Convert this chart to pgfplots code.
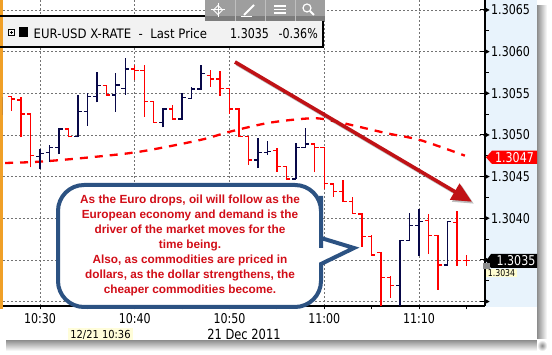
\documentclass[border=0pt]{standalone}
\usepackage{fontspec}
\usepackage{pgfplots}
\usepackage{pgfplotstable}
\pgfplotsset{compat=1.18}
\usetikzlibrary{arrows.meta}
\newfontfamily\tah{DejaVu Sans}[FakeStretch=0.82]
\newfontfamily\hdr{DejaVu Sans}[FakeStretch=0.9]
\newfontfamily\arb{Liberation Sans}
\definecolor{barnavy}{RGB}{8,8,72}
\definecolor{barred}{RGB}{255,0,0}
\definecolor{panelblue}{RGB}{232,243,252}
\definecolor{arrowred}{RGB}{192,18,22}
\definecolor{callnavy}{RGB}{44,82,130}
\definecolor{callred}{RGB}{210,14,24}
\definecolor{orng}{RGB}{240,160,40}
\definecolor{hdrgray}{RGB}{242,242,242}
\definecolor{tbgray}{RGB}{158,158,158}
\definecolor{tbdark}{RGB}{125,125,125}

\pgfdeclareplotmark{otick}{\pgfpathmoveto{\pgfqpoint{-3.8pt}{0pt}}\pgfpathlineto{\pgfqpoint{0.6pt}{0pt}}\pgfusepathqstroke}
\pgfdeclareplotmark{ctick}{\pgfpathmoveto{\pgfqpoint{-0.6pt}{0pt}}\pgfpathlineto{\pgfqpoint{3.8pt}{0pt}}\pgfusepathqstroke}

\newcommand\tri{\tikz[baseline=-4.9pt]{\draw[line width=1pt,black](0pt,0pt)--(5pt,0pt);\fill[black](4pt,2.9pt)--(9.5pt,0pt)--(4pt,-2.9pt)--cycle;}}

% t = minutes after 10:30
\pgfplotstableread{
t o h l c
-4 1.30532 1.30546 1.30524 1.30546
0 1.30474 1.30483 1.30459 1.30478
1 1.30479 1.30488 1.30468 1.30485
2 1.30485 1.30507 1.30477 1.30507
4 1.30498 1.30548 1.30497 1.30528
5 1.30528 1.30550 1.30511 1.30546
6 1.30546 1.30575 1.30539 1.30559
8 1.30548 1.30574 1.30528 1.30560
9 1.30556 1.30592 1.30548 1.30579
13 1.30515 1.30532 1.30509 1.30531
15 1.30519 1.30550 1.30518 1.30545
16 1.30544 1.30558 1.30543 1.30555
17 1.30555 1.30584 1.30555 1.30574
23 1.30470 1.30496 1.30460 1.30479
24 1.30479 1.30493 1.30476 1.30480
27 1.30447 1.30490 1.30447 1.30485
28 1.30485 1.30508 1.30485 1.30489
38 1.30319 1.30373 1.30290 1.30373
39 1.30373 1.30406 1.30373 1.30391
40 1.30391 1.30411 1.30355 1.30396
43 1.30344 1.30397 1.30343 1.30396
}\upbars

\pgfplotstableread{
t o h l c
-3 1.30546 1.30546 1.30529 1.30543
-2 1.30542 1.30546 1.30497 1.30525
-1 1.30525 1.30526 1.30461 1.30475
3 1.30507 1.30507 1.30497 1.30498
7 1.30559 1.30559 1.30548 1.30548
10 1.30579 1.30584 1.30566 1.30577
11 1.30577 1.30584 1.30522 1.30540
12 1.30540 1.30541 1.30515 1.30515
14 1.30531 1.30536 1.30518 1.30519
18 1.30571 1.30578 1.30558 1.30567
19 1.30567 1.30577 1.30547 1.30556
20 1.30556 1.30556 1.30525 1.30531
21 1.30531 1.30531 1.30497 1.30498
22 1.30498 1.30499 1.30464 1.30470
25 1.30481 1.30484 1.30456 1.30462
26 1.30462 1.30462 1.30446 1.30447
29 1.30489 1.30489 1.30455 1.30485
30 1.30485 1.30486 1.30435 1.30442
31 1.30441 1.30442 1.30426 1.30432
32 1.30432 1.30446 1.30420 1.30420
33 1.30420 1.30426 1.30406 1.30406
34 1.30405 1.30406 1.30366 1.30378
35 1.30378 1.30380 1.30356 1.30356
36 1.30359 1.30360 1.30290 1.30329
37 1.30329 1.30331 1.30304 1.30319
41 1.30397 1.30405 1.30357 1.30379
42 1.30379 1.30379 1.30314 1.30344
44 1.30395 1.30409 1.30343 1.30349
45 1.30349 1.30356 1.30343 1.30349
}\downbars

\begin{document}
\begin{tikzpicture}
\useasboundingbox (0pt,0pt) rectangle (552pt,355pt);
\begin{scope}[x=1pt,y=-1pt,shift={(0pt,355pt)}]
  % shadows
  \shade[left color=black!45, right color=white] (537,6) rectangle (547,346);
  \shade[top color=black!45, bottom color=white] (6,340) rectangle (537,351);
  \shade[inner color=black!45, outer color=white] (537,340) rectangle (547,351);
  \fill[white] (0,0) rectangle (537,340);
  \fill[panelblue] (486,0) rectangle (537,307);
  \fill[orng] (0,0) rectangle (2.5,309);
\end{scope}

\begin{axis}[
  at={(3pt,49pt)}, anchor=south west, scale only axis,
  width=482pt, height=306pt,
  xmin=-3.905, xmax=46.97, ymin=1.302946, ymax=1.30662,
  axis x line*=bottom, axis y line*=right,
  axis line style={black, line width=1.1pt, -},
  xtick={0,10,20,30,40}, xticklabels={10:30,10:40,10:50,11:00,11:10},
  minor xtick={5,15,25,35,45},
  ytick={1.3030,1.3035,1.3040,1.3045,1.3050,1.3055,1.3060,1.3065},
  minor ytick={1.30325,1.30375,1.30425,1.30475,1.30525,1.30575,1.30625},
  yticklabels={{\vphantom{0}\tri},{\vphantom{0}\tri},{\tri\hspace{1.5pt}1.3040},{\tri\hspace{1.5pt}1.3045},{\tri\hspace{1.5pt}1.3050},{\tri\hspace{1.5pt}1.3055},{\tri\hspace{1.5pt}1.3060},{\tri\hspace{1.5pt}1.3065}},
  scaled y ticks=false,
  tick align=outside,
  major tick length=3.5pt, minor tick length=3.5pt,
  tick style={black, line width=0.9pt},
  every major y tick/.append style={draw=none},
  xmajorgrids, ymajorgrids,
  major grid style={black!55, dash pattern=on 2pt off 2pt, line width=0.7pt},
  yticklabel style={anchor=west, inner sep=0pt, xshift=-9pt, font=\tah\fontsize{13.5}{14}\selectfont},
  xticklabel style={anchor=north, inner sep=0pt, yshift=-3.5pt, font=\tah\fontsize{13.5}{14}\selectfont},
  xlabel={21 Dec 2011},
  xlabel style={at={(axis description cs:0.5,0)}, anchor=north, inner sep=0pt, yshift=-23pt, font=\tah\fontsize{14}{15}\selectfont},
]
% moving average
\addplot[barred, line width=2.3pt, dash pattern=on 8pt off 7pt, smooth] coordinates {
(-3.69,1.304663) (0,1.304679) (5.28,1.304731) (10.55,1.304799) (16.9,1.304939)
(20.05,1.305039) (24.27,1.305147) (28.8,1.305200) (31.3,1.305159) (36.6,1.305020)
(40.1,1.304939) (44.85,1.304751)};
% up bars
\addplot[draw=none, mark=none, forget plot, error bars/.cd, y dir=plus, y explicit, error mark=none,
  error bar style={barnavy, line width=1.4pt, solid}]
  table[x=t, y=l, y error plus expr=\thisrow{h}-\thisrow{l}] {\upbars};
\addplot[only marks, mark=otick, barnavy, mark options={line width=1.4pt, solid}] table[x=t, y=o] {\upbars};
\addplot[only marks, mark=ctick, barnavy, mark options={line width=1.4pt, solid}] table[x=t, y=c] {\upbars};
% down bars
\addplot[draw=none, mark=none, forget plot, error bars/.cd, y dir=plus, y explicit, error mark=none,
  error bar style={barred, line width=1.4pt, solid}]
  table[x=t, y=l, y error plus expr=\thisrow{h}-\thisrow{l}] {\downbars};
\addplot[only marks, mark=otick, barred, mark options={line width=1.4pt, solid}] table[x=t, y=o] {\downbars};
\addplot[only marks, mark=ctick, barred, mark options={line width=1.4pt, solid}] table[x=t, y=c] {\downbars};
% arrow
\draw[line width=3.6pt, black, opacity=0.25, -{Triangle[length=20pt,width=18pt]}] ([xshift=2pt,yshift=-2pt]axis cs:20.58,1.305876) -- ([xshift=2pt,yshift=-2pt]axis cs:45.59,1.304198);
\draw[line width=3.6pt, arrowred, -{Triangle[length=20pt,width=18pt]}] (axis cs:20.58,1.305876) -- (axis cs:45.59,1.304198);
\end{axis}

\begin{scope}[x=1pt,y=-1pt,shift={(0pt,355pt)}]
  % header bar
  \fill[hdrgray] (2.5,16) rectangle (323,47);
  \draw[black, line width=1.2pt] (0,16) -- (205,16);
  \draw[black, line width=1.2pt] (0,47) -- (323,47) -- (323,16);
  \draw[black, line width=0.8pt] (8.5,29.5) rectangle (14.5,35.5);
  \draw[black, line width=0.7pt] (10,32.5) -- (13,32.5) (11.5,31) -- (11.5,34);
  \fill[black] (19,27.5) rectangle (28,37);
  \node[anchor=base west, inner sep=0pt, font=\hdr\fontsize{13}{14}\selectfont] at (33.5,38.3) {EUR-USD X-RATE\ \ -\ \ Last Price};
  \node[anchor=base west, inner sep=0pt, font=\tah\fontsize{13.5}{14}\selectfont] at (230,38.3) {1.3035};
  \node[anchor=base east, inner sep=0pt, font=\tah\fontsize{13.5}{14}\selectfont] at (318,38.3) {-0.36\%};
  % toolbar
  \fill[tbgray] (205,0) rectangle (325,16);
  \fill[tbdark] (205,16) rectangle (325,21);
  \draw[black!25, line width=0.8pt] (235,0) -- (235,21) (265,0) -- (265,21) (295,0) -- (295,21);
  \draw[white, line width=1pt] (218,3) -- (218,17) (211,10) -- (225,10);
  \draw[white, line width=1pt] (218,5.5) -- (222.5,10) -- (218,14.5) -- (213.5,10) -- cycle;
  \draw[white, line width=2pt] (244,15) -- (254,5);
  \draw[white, line width=0.8pt] (241,16) -- (252,16);
  \draw[white, line width=1.5pt] (274,6) -- (286,6) (274,9.5) -- (286,9.5) (274,13) -- (286,13);
  \draw[white, line width=1.2pt] (307,8) circle (4);
  \draw[white, line width=2pt] (310,11) -- (314,15);
  % right labels
  \fill[barred] (486,157.3) -- (492,150.7) -- (537,150.7) -- (537,164) -- (492,164) -- cycle;
  \node[inner sep=0pt, text=white, font=\tah\fontsize{13.5}{14}\selectfont] at (514.5,157.5) {1.3047};
  \fill[black] (486,261) -- (491,254) -- (537,254) -- (537,268) -- (491,268) -- cycle;
  \node[inner sep=0pt, text=white, font=\tah\fontsize{13.5}{14}\selectfont] at (516,261) {1.3035};
  \fill[black!45] (483,263) -- (490,263) -- (490,269) -- (483,269) -- cycle;
  \fill[yellow!18] (486,269) rectangle (517,277);
  \node[inner sep=0pt, font=\tah\fontsize{9.5}{10}\selectfont] at (501.5,273) {1.3034};
  % date tooltip
  \fill[yellow!15] (68,328.3) rectangle (133,340.5);
  \node[inner sep=0pt, font=\hdr\fontsize{11}{11}\selectfont] at (100.5,334.5) {12/21 10:36};
  % callout
  \draw[callnavy, line width=4pt, fill=white, rounded corners=26pt]
    (190,185) -- (321,185) -- (321,222) [sharp corners] -- (321,238) -- (354,248) -- (321,264)
    -- (321,276) [rounded corners=26pt] -- (321,307) -- (58,307) -- (58,185) -- cycle;
  \node[align=center, inner sep=0pt, text=callred, font=\arb\bfseries\fontsize{11.8}{15}\selectfont] at (190,245.5)
    {As the Euro drops, oil will follow as the\\European economy and demand is the\\driver of the market moves for the\\time being.\\Also, as commodities are priced in\\dollars, as the dollar strengthens, the\\cheaper commodities become.};
\end{scope}
\end{tikzpicture}
\end{document}
